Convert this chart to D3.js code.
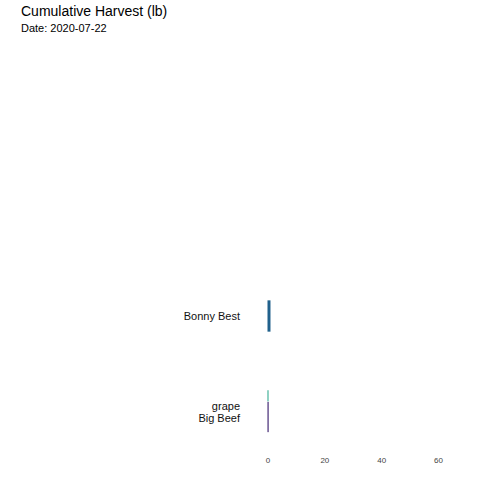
<!DOCTYPE html>
<html><head><meta charset="utf-8">
<script src="https://cdn.jsdelivr.net/npm/d3@7"></script>
<style>body{margin:0;background:#fff}text{font-family:"Liberation Sans",Arial,sans-serif}</style>
</head><body><svg id="c" width="480" height="480"></svg>
<script>
const categories = ["Bonny Best", "grape", "Big Beef"];
const values = [1.05, 0.35, 0.4];
const barRank = [1, 1.79, 2.0];      // animated rank (in transition)
const barSize = [0.31, 0.11, 0.30];  // bar thickness in rank units
const labelRank = [1, 1.89, 2.01];
const colors = ["#21618c", "#20a486", "#3a1f6e"];
const xTicks = [0, 20, 40, 60];

const svg = d3.select("#c");
const x = d3.scaleLinear().domain([0, 60]).range([267.5, 438]);
const y = d3.scaleLinear().domain([1, 2]).range([316, 417]);
const ys = d3.scaleLinear().domain([0, 1]).range([0, 101]);

svg.append("text").attr("x", 21).attr("y", 16).attr("font-size", 14).text("Cumulative Harvest (lb)");
svg.append("text").attr("x", 21).attr("y", 32).attr("font-size", 11).text("Date: 2020-07-22");

categories.forEach((c, i) => {
  svg.append("rect").attr("x", x(0)).attr("width", x(values[i]) - x(0))
    .attr("y", y(barRank[i]) - ys(barSize[i]) / 2).attr("height", ys(barSize[i]))
    .attr("fill", colors[i]);
  svg.append("text").attr("x", 240).attr("y", y(labelRank[i])).attr("dy", "0.35em")
    .attr("text-anchor", "end").attr("font-size", 11).attr("fill", "#111").text(c);
});

const ax = svg.append("g").attr("transform", "translate(0,445)")
  .call(d3.axisBottom(x).tickValues(xTicks).tickSize(0).tickPadding(12));
ax.select(".domain").remove();
ax.selectAll("text").attr("font-size", 8).attr("fill", "#444")
  .style("font-family", '"Liberation Sans",Arial,sans-serif');
</script></body></html>
